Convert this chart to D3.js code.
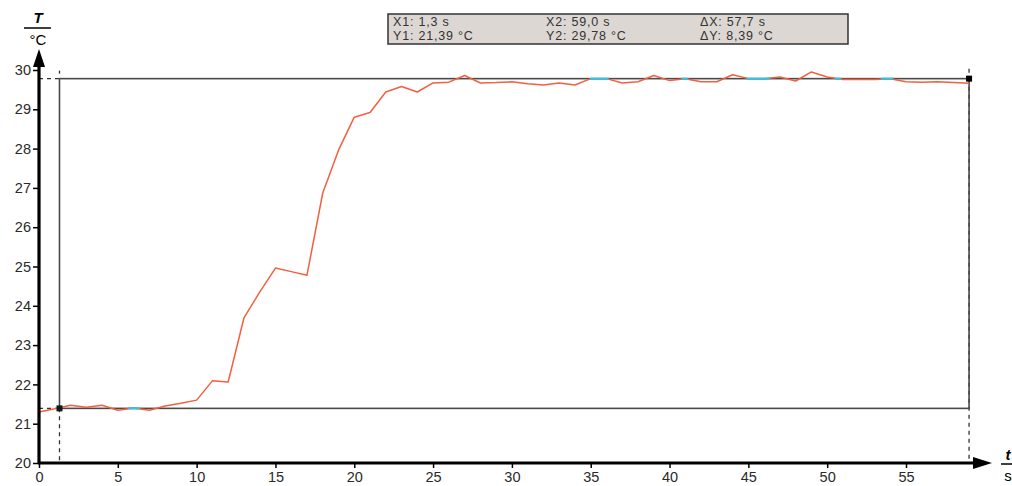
<!DOCTYPE html>
<html><head><meta charset="utf-8">
<script src="https://cdn.jsdelivr.net/npm/d3@7"></script>
<style>body{margin:0;background:#fff}svg{display:block}text{font-family:"Liberation Sans",Arial,sans-serif}</style>
</head><body>
<svg id="c" width="1012" height="486"></svg>
<script>
const times = [0,1,2,3,4,5,6,7,8,9,10,11,12,13,14,15,16,17,18,19,20,21,22,23,24,25,26,27,28,29,30,31,32,33,34,35,36,37,38,39,40,41,42,43,44,45,46,47,48,49,50,51,52,53,54,55,56,57,58,59];
const temps = [21.30,21.38,21.47,21.42,21.47,21.34,21.40,21.34,21.45,21.52,21.60,22.09,22.06,23.69,24.35,24.96,24.87,24.78,26.87,27.96,28.80,28.92,29.44,29.58,29.44,29.67,29.69,29.86,29.67,29.68,29.70,29.65,29.62,29.67,29.62,29.78,29.78,29.67,29.70,29.86,29.73,29.78,29.70,29.70,29.88,29.78,29.78,29.82,29.72,29.95,29.82,29.76,29.76,29.76,29.78,29.70,29.69,29.70,29.68,29.66];
const xTicks = [0,5,10,15,20,25,30,35,40,45,50,55];
const yTicks = [20,21,22,23,24,25,26,27,28,29,30];
const cursorX = [1.3, 59.0];
const cursorY = [21.39, 29.78];
const infoRow1 = ["X1: 1,3 s", "X2: 59,0 s", "\u0394X: 57,7 s"];
const infoRow2 = ["Y1: 21,39 \u00B0C", "Y2: 29,78 \u00B0C", "\u0394Y: 8,39 \u00B0C"];

const svg = d3.select("#c");
const x = d3.scaleLinear().domain([0,55]).range([39,906]);
const y = d3.scaleLinear().domain([20,30]).range([463,70]);
const data = times.map((t,i)=>({t, v:temps[i]}));

// cursor dashed guides
const dash = svg.append("g").attr("stroke","#333").attr("stroke-width",1.3).attr("stroke-dasharray","4,4").attr("fill","none");
dash.append("line").attr("x1",x(0)).attr("x2",x(cursorX[0])).attr("y1",y(cursorY[0])).attr("y2",y(cursorY[0]));
dash.append("line").attr("x1",x(0)).attr("x2",x(cursorX[0])).attr("y1",y(cursorY[1])).attr("y2",y(cursorY[1]));
dash.append("line").attr("x1",x(cursorX[0])).attr("x2",x(cursorX[0])).attr("y1",y(cursorY[0])).attr("y2",y(20));
dash.append("line").attr("x1",x(cursorX[1])).attr("x2",x(cursorX[1])).attr("y1",y(cursorY[1])).attr("y2",y(20));
dash.append("line").attr("x1",x(cursorX[0])).attr("x2",x(cursorX[0])).attr("y1",y(cursorY[1])-8).attr("y2",y(cursorY[1])-5);
dash.append("line").attr("x1",x(cursorX[1])).attr("x2",x(cursorX[1])).attr("y1",y(cursorY[1])-10).attr("y2",y(cursorY[1])-5);

// cursor rectangle
svg.append("rect").attr("x",x(cursorX[0])).attr("y",y(cursorY[1]))
  .attr("width",x(cursorX[1])-x(cursorX[0])).attr("height",y(cursorY[0])-y(cursorY[1]))
  .attr("fill","none").attr("stroke","#4a4a4a").attr("stroke-width",1.6);

// data line
const line = d3.line().x(d=>x(d.t)).y(d=>y(d.v));
svg.append("path").datum(data).attr("d",line).attr("fill","none").attr("stroke","#f2603f").attr("stroke-width",1.5).attr("stroke-linejoin","round");

// cyan where line coincides with cursor lines
const hi = svg.append("g").attr("stroke","#29c4f0").attr("stroke-width",2);
cursorY.forEach(cy=>{
  const yc = y(cy);
  let start=null;
  const step=0.05;
  for(let t=cursorX[0]; t<=cursorX[1]+1e-9; t+=step){
    const i = Math.min(d3.bisectRight(times,t)-1, times.length-2);
    const f = (t-times[i])/(times[i+1]-times[i]);
    const v = temps[i]+(temps[i+1]-temps[i])*Math.max(0,Math.min(1,f));
    const near = Math.abs(y(v)-yc) < 0.5;
    if(near && start===null) start=t;
    if((!near || t+step>cursorX[1]) && start!==null){
      if(t-start>0.3) hi.append("line").attr("x1",x(start)).attr("x2",x(t)).attr("y1",yc).attr("y2",yc);
      start=null;
    }
  }
});

// markers
svg.append("rect").attr("x",x(cursorX[0])-3).attr("y",y(cursorY[0])-3).attr("width",6).attr("height",6).attr("fill","#0a1a1a");
svg.append("rect").attr("x",x(cursorX[1])-3).attr("y",y(cursorY[1])-3).attr("width",6).attr("height",6).attr("fill","#000");

// axes
const tickFont = "DejaVu Sans, Liberation Sans, sans-serif";
const yAx = svg.append("g").attr("transform",`translate(${x(0)},0)`).call(d3.axisLeft(y).tickValues(yTicks).tickSize(6).tickPadding(2).tickFormat(d3.format("d")));
yAx.select(".domain").remove();
yAx.selectAll("line").attr("stroke","#000").attr("stroke-width",1.5);
yAx.selectAll("text").attr("font-size",14.5).attr("fill","#2a2a2a").attr("font-family",tickFont);
const xAx = svg.append("g").attr("transform",`translate(0,${y(20)})`).call(d3.axisBottom(x).tickValues(xTicks).tickSize(5).tickPadding(4).tickFormat(d3.format("d")));
xAx.select(".domain").remove();
xAx.selectAll("line").attr("stroke","#000").attr("stroke-width",1.5);
xAx.selectAll("text").attr("font-size",14.5).attr("fill","#2a2a2a").attr("font-family",tickFont);

svg.append("line").attr("x1",x(0)).attr("x2",x(0)).attr("y1",y(20)+1).attr("y2",62).attr("stroke","#000").attr("stroke-width",3.2);
svg.append("line").attr("x1",x(0)-1).attr("x2",978).attr("y1",y(20)).attr("y2",y(20)).attr("stroke","#000").attr("stroke-width",3.2);
svg.append("path").attr("d",`M${x(0)},49 L${x(0)-6},67 L${x(0)+6},67 Z`).attr("fill","#000");
svg.append("path").attr("d",`M992,${y(20)} L973,${y(20)-6} L973,${y(20)+6} Z`).attr("fill","#000");

// axis unit labels
svg.append("text").attr("x",38).attr("y",23).attr("text-anchor","middle").attr("font-size",15).attr("font-weight","bold").attr("font-style","italic").text("T");
svg.append("line").attr("x1",24).attr("x2",51).attr("y1",28).attr("y2",28).attr("stroke","#000").attr("stroke-width",1.5);
svg.append("text").attr("x",38).attr("y",45).attr("text-anchor","middle").attr("font-size",15).attr("font-family",tickFont).text("\u00B0C");
svg.append("text").attr("x",1008).attr("y",460).attr("text-anchor","middle").attr("font-size",15).attr("font-weight","bold").attr("font-style","italic").text("t");
svg.append("line").attr("x1",1001).attr("x2",1012).attr("y1",464).attr("y2",464).attr("stroke","#000").attr("stroke-width",1.5);
svg.append("text").attr("x",1008).attr("y",481).attr("text-anchor","middle").attr("font-size",15).attr("font-family",tickFont).text("s");

// info box
svg.append("rect").attr("x",388).attr("y",14).attr("width",460).attr("height",30).attr("fill","#ddd7d4").attr("stroke","#333").attr("stroke-width",1.5);
const cols=[393,546,700];
const boxFont = "DejaVu Sans, Liberation Sans, sans-serif";
infoRow1.forEach((s,i)=>svg.append("text").attr("x",cols[i]).attr("y",26).attr("font-size",12.5).attr("letter-spacing",0.8).attr("font-family",boxFont).attr("fill","#333").text(s));
infoRow2.forEach((s,i)=>svg.append("text").attr("x",cols[i]).attr("y",40).attr("font-size",12.5).attr("letter-spacing",0.8).attr("font-family",boxFont).attr("fill","#333").text(s));
</script>
</body></html>
